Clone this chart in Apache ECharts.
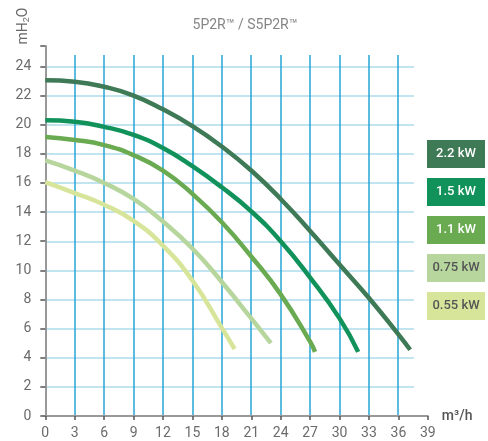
<!DOCTYPE html>
<html>
<head>
<meta charset="utf-8">
<script src="https://cdn.jsdelivr.net/npm/echarts@6/dist/echarts.min.js"></script>
<style>html,body{margin:0;padding:0;background:#fff}#c{width:488px;height:441px}</style>
</head>
<body>
<div id="c"></div>
<script>
const title = '5P2R\u2122 / S5P2R\u2122';
const xTicks = [0, 3, 6, 9, 12, 15, 18, 21, 24, 27, 30, 33, 36, 39];
const yTicks = [0, 2, 4, 6, 8, 10, 12, 14, 16, 18, 20, 22, 24];
const seriesNames = ['2.2 kW', '1.5 kW', '1.1 kW', '0.75 kW', '0.55 kW'];
const seriesColors = ['#3e7a56', '#10925a', '#6aab52', '#b6d69e', '#d7e59a'];
const labelColors = ['#ffffff', '#ffffff', '#ffffff', '#555555', '#555555'];

const flow22 = [0, 3, 6, 9, 12, 15, 18, 21, 24, 27, 30, 33, 36, 37.2];
const head22 = [23.05, 22.95, 22.6, 22.0, 21.05, 19.9, 18.5, 16.85, 14.9, 12.7, 10.4, 8.1, 5.6, 4.55];
const flow15 = [0, 3, 6, 9, 12, 15, 18, 21, 24, 27, 30, 31.9];
const head15 = [20.3, 20.2, 19.85, 19.3, 18.4, 17.15, 15.7, 14.05, 12.0, 9.5, 6.7, 4.4];
const flow11 = [0, 3, 6, 9, 12, 15, 18, 21, 24, 27, 27.5];
const head11 = [19.15, 18.95, 18.6, 17.9, 16.85, 15.25, 13.3, 10.95, 8.35, 5.1, 4.4];
const flow075 = [0, 3, 6, 9, 12, 15, 18, 21, 23.0];
const head075 = [17.55, 16.85, 16.0, 14.9, 13.35, 11.5, 9.2, 6.7, 5.0];
const flow055 = [0, 3, 6, 9, 12, 15, 18, 19.3];
const head055 = [16.05, 15.3, 14.5, 13.4, 11.7, 9.3, 6.05, 4.6];

const flows = [flow22, flow15, flow11, flow075, flow055];
const heads = [head22, head15, head11, head075, head055];

const xMax = xTicks[xTicks.length - 1];
const yStep = yTicks[1] - yTicks[0];
const xStep = xTicks[1] - xTicks[0];

const chart = echarts.init(document.getElementById('c'), null, {renderer: 'canvas'});

const legendGraphics = [];
seriesNames.forEach((n, i) => {
  legendGraphics.push({
    type: 'group',
    left: 427,
    top: 140 + i * 38,
    children: [
      {type: 'rect', shape: {x: 0, y: 0, width: 58, height: 28}, style: {fill: seriesColors[i]}},
      {type: 'text', x: 29, y: 14, style: {text: n, fill: labelColors[i], font: '500 13px Roboto', align: 'center', verticalAlign: 'middle'}}
    ]
  });
});

const option = {
  animation: false,
  backgroundColor: '#fff',
  title: {
    text: title, left: 240, top: 13, textAlign: 'center',
    textStyle: {color: '#858585', fontSize: 14, fontWeight: 'normal', fontFamily: 'Roboto'}
  },
  grid: [
    {left: 45.3, top: 46, width: 382.5, height: 370, containLabel: false},
    {left: 45.3, top: 55, width: 368.6, height: 361, containLabel: false}
  ],
  xAxis: [
    {
      gridIndex: 0, type: 'value', min: 0, max: xMax, interval: xStep, z: 3,
      name: 'm\u00b3/h', nameLocation: 'end', nameGap: 14,
      nameTextStyle: {color: '#555', fontSize: 14, fontFamily: 'Roboto', fontWeight: 500, verticalAlign: 'middle'},
      axisLine: {show: true, lineStyle: {color: '#999', width: 2}},
      axisTick: {show: true, length: 4, lineStyle: {color: '#555', width: 1.5}},
      axisLabel: {color: '#6b6b6b', fontSize: 14, fontFamily: 'Roboto', margin: 10},
      splitLine: {show: false}
    },
    {
      gridIndex: 1, type: 'value', min: 0, max: 37.6, interval: xStep, z: 1,
      axisLine: {show: false}, axisTick: {show: false}, axisLabel: {show: false},
      splitLine: {show: true, showMinLine: false, showMaxLine: false, lineStyle: {color: '#26a6d6', width: 1.5}}
    }
  ],
  yAxis: [
    {
      gridIndex: 0, type: 'value', min: 0, max: 25.4, interval: yStep, z: 3,
      axisLine: {show: true, lineStyle: {color: '#999', width: 2}},
      axisTick: {show: true, length: 5, lineStyle: {color: '#555', width: 1.5}},
      axisLabel: {color: '#6b6b6b', fontSize: 14, fontFamily: 'Roboto', margin: 14,
        formatter: v => (yTicks.indexOf(v) >= 0 ? String(v) : '')},
      splitLine: {show: false}
    },
    {
      gridIndex: 1, type: 'value', min: 0, max: 24.8, interval: yStep, z: 0,
      axisLine: {show: false}, axisTick: {show: false}, axisLabel: {show: false},
      splitLine: {show: true, showMinLine: false, showMaxLine: false, lineStyle: {color: '#c2e4f0', width: 2}}
    }
  ],
  graphic: [
    {
      type: 'text', x: 23, y: 26, rotation: Math.PI / 2,
      style: {
        text: 'mH{s|2}O', fill: '#666', font: '14px Roboto', align: 'center', verticalAlign: 'middle',
        rich: {s: {fontSize: 9, fill: '#666', padding: [8, 0, 0, 0]}}
      }
    }
  ].concat(legendGraphics),
  series: seriesNames.map((n, i) => ({
    name: n, type: 'line', xAxisIndex: 0, yAxisIndex: 0, z: 5,
    smooth: 0.5, showSymbol: false, symbol: 'none',
    lineStyle: {color: seriesColors[i], width: 4.5, cap: 'butt'},
    data: flows[i].map((x, k) => [x, heads[i][k]])
  }))
};
chart.setOption(option);
</script>
</body>
</html>
